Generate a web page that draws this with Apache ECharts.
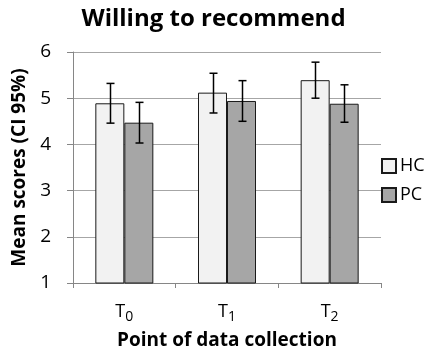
<!DOCTYPE html>
<html><head><meta charset="utf-8">
<script src="https://cdn.jsdelivr.net/npm/echarts@6/dist/echarts.min.js"></script>
<style>html,body{margin:0;padding:0;background:#fff}#c{width:427px;height:355px}</style>
</head><body><div id="c"></div>
<script>
var categories = ['T0', 'T1', 'T2'];
var catSub = ['0', '1', '2'];
var hcMean = [4.89, 5.12, 5.39];
var hcLow = [4.46, 4.68, 5.00];
var hcHigh = [5.32, 5.54, 5.78];
var pcMean = [4.47, 4.94, 4.88];
var pcLow = [4.03, 4.50, 4.48];
var pcHigh = [4.91, 5.38, 5.29];
var yTicks = [1, 2, 3, 4, 5, 6];

var F = '"Open Sans", "Liberation Sans", sans-serif';
var chart = echarts.init(document.getElementById('c'));
var BW = 29;
function errSeries(low, high, off) {
  return {
    type: 'custom',
    z: 10,
    data: low.map(function (l, i) { return [i, l, high[i]]; }),
    renderItem: function (params, api) {
      var lo = api.coord([api.value(0), api.value(1)]);
      var hi = api.coord([api.value(0), api.value(2)]);
      var x = Math.round(lo[0] + off) + 0.5;
      var cw = 4;
      var st = { stroke: '#000', lineWidth: 1.5 };
      return { type: 'group', children: [
        { type: 'line', shape: { x1: x, y1: hi[1], x2: x, y2: lo[1] }, style: st },
        { type: 'line', shape: { x1: x - cw, y1: hi[1], x2: x + cw, y2: hi[1] }, style: st },
        { type: 'line', shape: { x1: x - cw, y1: lo[1], x2: x + cw, y2: lo[1] }, style: st }
      ]};
    }
  };
}
chart.setOption({
  animation: false,
  title: { text: 'Willing to recommend', left: 'center', top: 2,
    textStyle: { fontFamily: F, fontSize: 24, fontWeight: 'bold', color: '#000' } },
  grid: { left: 73, right: 46, top: 52, bottom: 72 },
  legend: {
    orient: 'vertical', left: 376, top: 152, itemWidth: 14, itemHeight: 14, itemGap: 11,
    textStyle: { fontFamily: F, fontSize: 18, color: '#000', padding: [0,0,0,-1] },
    data: [{ name: 'HC', icon: 'rect' }, { name: 'PC', icon: 'rect' }]
  },
  xAxis: {
    type: 'category', data: categories,
    name: 'Point of data collection', nameLocation: 'middle', nameGap: 48,
    nameTextStyle: { fontFamily: F, fontSize: 19, fontWeight: 'bold', color: '#000' },
    axisLine: { lineStyle: { color: '#868686' } },
    axisTick: { show: true, length: 5, lineStyle: { color: '#868686' } },
    axisLabel: { interval: 0, margin: 17, fontFamily: F, fontSize: 18, color: '#000',
      formatter: function (v, i) { return '{m|T}{s|' + catSub[i] + '}'; },
      rich: { m: { fontFamily: F, fontSize: 18, color: '#000' },
              s: { fontFamily: F, fontSize: 14, color: '#000', verticalAlign: 'bottom', padding: [10,0,0,0] } } }
  },
  yAxis: {
    type: 'value', min: 1, max: 6, interval: 1,
    name: 'Mean scores (CI 95%)', nameLocation: 'middle', nameGap: 42,
    nameTextStyle: { fontFamily: F, fontSize: 19, fontWeight: 'bold', color: '#000' },
    axisLine: { show: true, lineStyle: { color: '#868686' } },
    axisTick: { show: true, length: 6, lineStyle: { color: '#868686' } },
    splitLine: { lineStyle: { color: '#a6a6a6', width: 1.2 } },
    axisLabel: { margin: 22, fontFamily: F, fontSize: 19, color: '#000',
      formatter: function (v) { return yTicks.indexOf(v) >= 0 ? String(v) : ''; } }
  },
  series: [
    { name: 'HC', type: 'bar', data: hcMean, barWidth: BW, barGap: '0%',
      itemStyle: { color: '#f2f2f2', borderColor: '#1a1a1a', borderWidth: 1 } },
    { name: 'PC', type: 'bar', data: pcMean, barWidth: BW, barGap: '0%',
      itemStyle: { color: '#a6a6a6', borderColor: '#1a1a1a', borderWidth: 1 } },
    errSeries(hcLow, hcHigh, -BW / 2),
    errSeries(pcLow, pcHigh, BW / 2)
  ]
});
</script></body></html>
